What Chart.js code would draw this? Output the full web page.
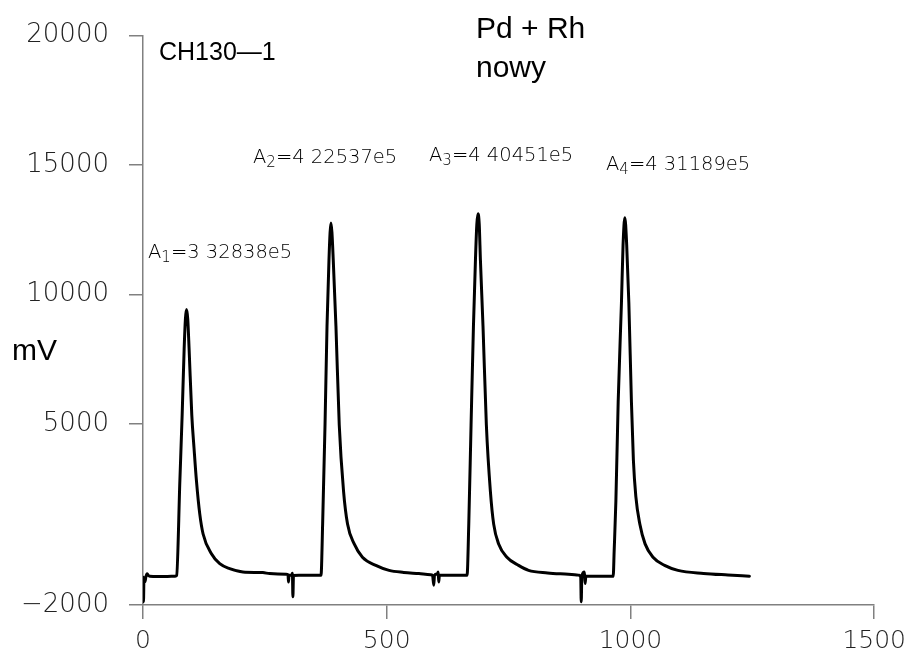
<!DOCTYPE html>
<html>
<head>
<meta charset="utf-8">
<script src="https://cdn.jsdelivr.net/npm/chart.js@4.4.1/dist/chart.umd.min.js"></script>
<style>
  body { margin: 0; background: #fff; }
  #wrap { width: 913px; height: 661px; }
</style>
</head>
<body>
<div id="wrap"><canvas id="chromChart" width="913" height="661"></canvas></div>
<script>
// Chromatogram trace (time, mV)
const timeValues = [
  0, 1, 2, 4, 6, 8.5, 11, 14, 30, 50, 66, 69,
  75.6, 80.3, 84.4, 87, 89.3, 91.8, 94.6, 100.1, 104.7, 109.7, 116.5, 123.3, 140.4, 157.4, 177.8, 205, 245.9, 259.6, 293.6,
  297.5, 298.5, 299.5, 305, 306.5, 307.5, 308.7, 320, 345, 365.2,
  368.5, 373.4, 377.5, 381.5, 383.8, 385.6, 387.6, 390.3, 395.8, 402.6, 411.4, 419.6, 433.3, 450.2, 477.6, 504.8, 535, 566, 590,
  594, 596.5, 598, 604, 605.5, 606.7, 608, 635, 664.8,
  668.3, 673, 677.9, 682, 684.8, 687.3, 689.8, 692.2, 697.5, 704.4, 712.6, 719.4, 729.6, 746.6, 770.5, 790.9, 830, 872.6, 890,
  895, 898, 899, 900.3, 905.5, 907, 908.5, 935, 964.6,
  966.6, 970.1, 974.8, 981.5, 984.8, 988.5, 992.3, 996.7, 1002, 1006, 1011, 1019.2, 1030, 1046.3, 1070, 1097.4, 1150, 1200, 1244
];
const signalValues = [
  -930, -1870, -950, -1100, -900, -790, -860, -890, -900, -895, -890, -860,
  2783, 5334, 7883, 9050, 9413, 9050, 7883, 5334, 4057, 2783, 1509, 743, -22, -405, -596, -725, -748, -787, -814,
  -830, -1108, -850, -852, -776, -1682, -860, -850, -852, -852,
  1126, 4953, 8779, 11326, 12400, 12757, 12400, 11326, 8779, 4953, 2400, 1126, 361, -152, -470, -661, -740, -787, -830,
  -852, -1235, -852, -800, -725, -1108, -852, -852, -852,
  1126, 4953, 8779, 11326, 12700, 13114, 12700, 11326, 8779, 4953, 2400, 1126, 361, -152, -470, -661, -760, -814, -840,
  -852, -930, -1874, -880, -725, -1170, -890, -890, -890,
  104, 2017, 5844, 9670, 11900, 12961, 11900, 9670, 5844, 3600, 2200, 1126, 361, -152, -470, -661, -780, -840, -885
];

// Axis ticks
const xTickValues = [0, 500, 1000, 1500];
const yTickValues = [-2000, 5000, 10000, 15000, 20000];

// Peak area labels
const peakIndex = ['1', '2', '3', '4'];
const peakAreas = ['3 32838e5', '4 22537e5', '4 40451e5', '4 31189e5'];

const TICK_FONT = "DejaVu Sans";

function drawSubLabel(ctx, x, y, sub, rest) {
  ctx.font = "200 19.5px 'DejaVu Sans'";
  ctx.fillText('A', x, y);
  x += ctx.measureText('A').width;
  ctx.font = "200 15px 'DejaVu Sans'";
  ctx.fillText(sub, x, y + 4);
  x += ctx.measureText(sub).width;
  ctx.font = "200 19.5px 'DejaVu Sans'";
  ctx.fillText('=' + rest, x, y);
}

// Text drawn on top of the chart
const textPlugin = {
  id: 'chartText',
  afterDraw(chart) {
    const ctx = chart.ctx;
    ctx.save();
    ctx.fillStyle = '#000';
    ctx.textBaseline = 'alphabetic';
    ctx.textAlign = 'left';

    ctx.font = "25px 'Liberation Sans'";
    ctx.fillText('CH130\u20141', 159, 60);
    ctx.font = "30px 'Liberation Sans'";
    ctx.fillText('Pd + Rh', 476, 38);
    ctx.fillText('nowy', 476, 77);
    ctx.fillText('mV', 12, 360);

    // area labels, one per peak
    const spots = [[148, 258], [253, 163], [429, 161], [606, 170]];
    ctx.fillStyle = '#000';
    peakIndex.forEach((n, i) => {
      drawSubLabel(ctx, spots[i][0], spots[i][1], n, peakAreas[i]);
    });
    ctx.restore();
  }
};

const points = timeValues.map((t, i) => ({ x: t, y: signalValues[i] }));

new Chart(document.getElementById('chromChart'), {
  type: 'line',
  data: {
    datasets: [{
      data: points,
      borderColor: '#000',
      borderWidth: 3,
      pointRadius: 0,
      cubicInterpolationMode: 'monotone',
      borderJoinStyle: 'round',
      borderCapStyle: 'round',
      fill: false
    }]
  },
  options: {
    responsive: false,
    animation: false,
    layout: { padding: { left: 0, right: 35, top: 30, bottom: 0 } },
    plugins: {
      legend: { display: false },
      tooltip: { enabled: false }
    },
    scales: {
      x: {
        type: 'linear',
        min: 0,
        max: 1500,
        afterFit(scale) { scale.height = 56; },
        afterBuildTicks(scale) { scale.ticks = xTickValues.map(v => ({ value: v })); },
        grid: { drawOnChartArea: false, drawTicks: true, tickLength: 14, color: '#808080', lineWidth: 1.5 },
        border: { display: true, color: '#808080', width: 1.5 },
        ticks: {
          padding: 7,
          color: '#222',
          font: { family: TICK_FONT, size: 25, weight: '200' },
          maxRotation: 0,
          callback: v => String(v)
        }
      },
      y: {
        min: -2000,
        max: 20000,
        afterFit(scale) { scale.width = 143; },
        afterBuildTicks(scale) { scale.ticks = yTickValues.map(v => ({ value: v })); },
        grid: { drawOnChartArea: false, drawTicks: true, tickLength: 14, color: '#808080', lineWidth: 1.5 },
        border: { display: true, color: '#808080', width: 1.5 },
        ticks: {
          padding: 20,
          color: '#222',
          font: { family: TICK_FONT, size: 26, weight: '200' },
          callback: v => (v < 0 ? '\u2212' + Math.abs(v) : String(v))
        }
      }
    }
  },
  plugins: [textPlugin]
});
</script>
</body>
</html>
